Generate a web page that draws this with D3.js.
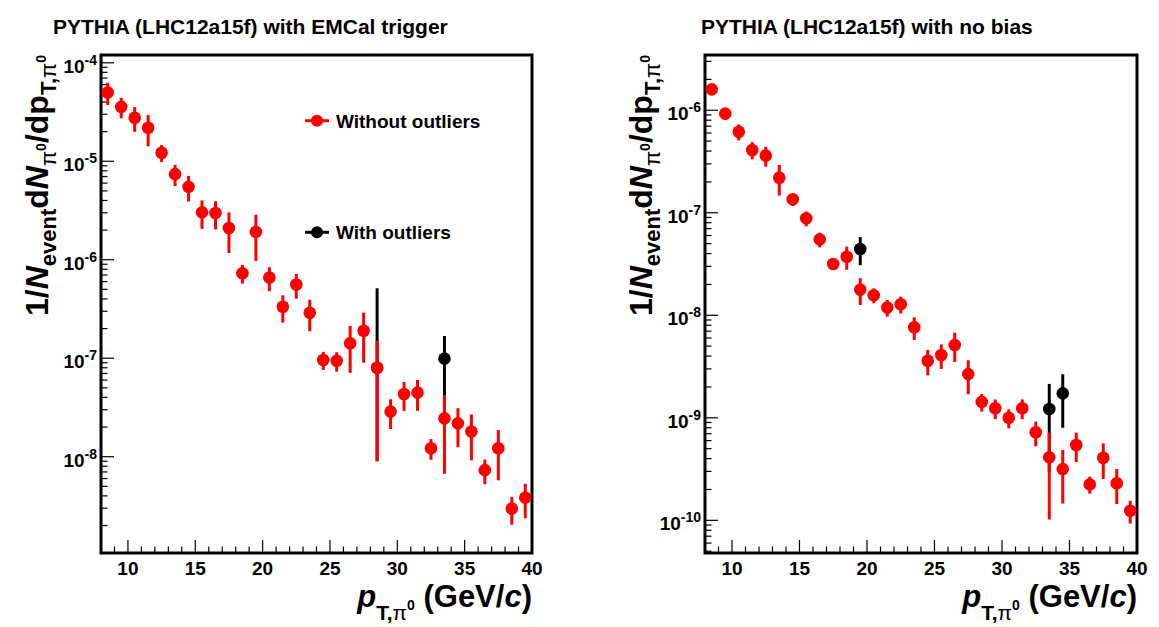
<!DOCTYPE html>
<html><head><meta charset="utf-8">
<script src="https://cdn.jsdelivr.net/npm/d3@7"></script>
<style>
html,body{margin:0;padding:0;background:#fff;}
svg text{font-family:"Liberation Sans",Arial,Helvetica,sans-serif;font-weight:bold;}
</style></head>
<body><svg id="c" width="1159" height="627"></svg>
<script>
// ---------- data ----------
const ptBins = [8.5,9.5,10.5,11.5,12.5,13.5,14.5,15.5,16.5,17.5,18.5,19.5,20.5,21.5,22.5,23.5,
                24.5,25.5,26.5,27.5,28.5,29.5,30.5,31.5,32.5,33.5,34.5,35.5,36.5,37.5,38.5,39.5];

// EMCal trigger, without outliers
const emcalValues = [5.0e-5,3.57e-5,2.77e-5,2.19e-5,1.22e-5,7.4e-6,5.5e-6,3.03e-6,2.98e-6,2.1e-6,7.3e-7,1.92e-6,
                     6.6e-7,3.33e-7,5.6e-7,2.9e-7,9.6e-8,9.4e-8,1.42e-7,1.9e-7,8.0e-8,2.87e-8,4.33e-8,4.47e-8,
                     1.22e-8,2.45e-8,2.18e-8,1.8e-8,7.3e-9,1.22e-8,2.97e-9,3.84e-9];
const emcalErrors = [1.27e-5,0.84e-5,0.78e-5,0.77e-5,0.24e-5,1.8e-6,1.6e-6,0.97e-6,0.95e-6,0.93e-6,1.57e-7,0.95e-6,
                     1.8e-7,1.03e-7,1.58e-7,1.02e-7,2.0e-8,2.1e-8,7.1e-8,1.0e-7,7.1e-8,9.6e-9,1.41e-8,1.55e-8,
                     2.9e-9,1.78e-8,9.3e-9,8.8e-9,2.05e-9,6.45e-9,9.3e-10,1.47e-9];
// EMCal trigger, with outliers (only bins that differ)
const emcalOutPt = [28.5,33.5];
const emcalOutValues = [8.0e-8,9.9e-8];
const emcalOutErrLow = [7.1e-8,6.9e-8];
const emcalOutErrHigh = [4.33e-7,6.9e-8];

// no bias, without outliers
const mbValues = [1.6e-6,9.27e-7,6.18e-7,4.1e-7,3.61e-7,2.2e-7,1.355e-7,8.83e-8,5.5e-8,3.16e-8,3.73e-8,1.78e-8,
                  1.57e-8,1.19e-8,1.28e-8,7.64e-9,3.6e-9,4.1e-9,5.13e-9,2.67e-9,1.43e-9,1.24e-9,1.0e-9,1.24e-9,
                  7.22e-10,4.12e-10,3.16e-10,5.43e-10,2.24e-10,4.08e-10,2.3e-10,1.24e-10];
const mbErrors = [1.5e-7,1.2e-7,1.1e-7,7.8e-8,8e-8,7.3e-8,1.9e-8,1.45e-8,9e-9,3e-9,9.5e-9,5.2e-9,
                  2.6e-9,2.2e-9,2.4e-9,1.9e-9,1.0e-9,1.1e-9,1.63e-9,0.97e-9,0.28e-9,0.27e-9,0.21e-9,0.27e-9,
                  1.95e-10,3.1e-10,1.7e-10,1.73e-10,0.42e-10,1.55e-10,0.86e-10,0.31e-10];
// no bias, with outliers
const mbOutPt = [19.5,33.5,34.5];
const mbOutValues = [4.43e-8,1.22e-9,1.73e-9];
const mbOutErrLow = [1.35e-8,0.92e-9,0.93e-9];
const mbOutErrHigh = [1.35e-8,0.92e-9,0.93e-9];

const xTicks = [10,15,20,25,30,35,40];
const xDomain = [8,40];
const titles = ["PYTHIA (LHC12a15f) with EMCal trigger","PYTHIA (LHC12a15f) with no bias"];
const legendLabels = ["Without outliers","With outliers"];

// ---------- drawing ----------
const svg = d3.select("#c");
const RED = "#ff0000";

function drawPanel(o){
  const g = svg.append("g");
  const x = d3.scaleLinear().domain(xDomain).range([o.left, o.right]);
  const y = d3.scaleLog().domain(o.yDomain).range([o.bottom, o.top]);
  const clipId = "clip"+o.id;
  svg.append("clipPath").attr("id",clipId).append("rect")
    .attr("x",o.left).attr("y",o.top).attr("width",o.right-o.left).attr("height",o.bottom-o.top);

  // title
  g.append("text").attr("x",o.titleX).attr("y",34).attr("font-size",21).text(o.title);

  // x ticks
  const minorX = d3.range(xDomain[0]+1, xDomain[1], 1);
  g.selectAll(".mx").data(minorX).join("line")
    .attr("x1",d=>x(d)).attr("x2",d=>x(d)).attr("y1",o.bottom).attr("y2",d=>o.bottom-(d%5===0?13:6.5))
    .attr("stroke","#000").attr("stroke-width",1.2);
  g.selectAll(".xl").data(xTicks).join("text")
    .attr("x",d=>x(d)).attr("y",575).attr("text-anchor","middle")
    .attr("font-size",19).text(d=>d);

  // y ticks (log)
  const lo = Math.floor(Math.log10(o.yDomain[0])), hi = Math.ceil(Math.log10(o.yDomain[1]));
  const yt = [];
  for(let e=lo;e<=hi;e++) for(let m=1;m<=9;m++){ const v=m*Math.pow(10,e); if(v>=o.yDomain[0]&&v<=o.yDomain[1]) yt.push({v,m,e}); }
  g.selectAll(".my").data(yt).join("line")
    .attr("x1",o.left).attr("x2",d=>o.left+(d.m===1?13:6.5)).attr("y1",d=>y(d.v)).attr("y2",d=>y(d.v))
    .attr("stroke","#000").attr("stroke-width",1.2);
  const maj = yt.filter(d=>d.m===1);
  const lab = g.selectAll(".yl").data(maj).join("text")
    .attr("x",o.left-4).attr("y",d=>y(d.v)+10).attr("text-anchor","end").attr("font-size",19);
  lab.append("tspan").text("10");
  lab.append("tspan").attr("font-size",14).attr("dy",-8).text(d=>d.e);

  // frame
  g.append("rect").attr("x",o.left).attr("y",o.top).attr("width",o.right-o.left).attr("height",o.bottom-o.top)
    .attr("fill","none").attr("stroke","#000").attr("stroke-width",3);

  // data: outliers (black) first, then the main series on top
  const plot = g.append("g").attr("clip-path",`url(#${clipId})`);
  const out = o.outPt.map((p,i)=>({p,v:o.outV[i],lo:o.outLo[i],hi:o.outHi[i]}));
  const main = ptBins.map((p,i)=>({p,v:o.vals[i],lo:o.errs[i],hi:o.errs[i]}));
  function drawSeries(data,color){
    const yLo = d=> (d.v-d.lo)>0 ? y(d.v-d.lo) : o.bottom+5;
    plot.append("g").selectAll("line").data(data).join("line")
      .attr("x1",d=>x(d.p)).attr("x2",d=>x(d.p)).attr("y1",d=>y(d.v+d.hi)).attr("y2",yLo)
      .attr("stroke",color).attr("stroke-width",3);
    plot.append("g").selectAll("circle").data(data).join("circle")
      .attr("cx",d=>x(d.p)).attr("cy",d=>y(d.v)).attr("r",6.3).attr("fill",color);
  }
  drawSeries(out,"#000");
  drawSeries(main,RED);

  // y title
  const yt2 = g.append("text").attr("transform",`translate(${o.left-53},${o.top}) rotate(-90)`)
    .attr("text-anchor","end").attr("font-size",32);
  yt2.append("tspan").text("1/");
  yt2.append("tspan").attr("font-style","italic").text("N");
  yt2.append("tspan").attr("font-size",22).attr("dy",8).text("event");
  yt2.append("tspan").attr("dy",-8).text("d");
  yt2.append("tspan").attr("font-style","italic").text("N");
  yt2.append("tspan").attr("font-size",22).attr("font-weight","normal").attr("dy",8).text("π");
  yt2.append("tspan").attr("font-size",14).attr("dy",-10).text("0");
  yt2.append("tspan").attr("dy",2).text("/dp");
  yt2.append("tspan").attr("font-size",22).attr("dy",8).text("T,");
  yt2.append("tspan").attr("font-size",22).attr("font-weight","normal").text("π");
  yt2.append("tspan").attr("font-size",14).attr("dy",-10).text("0");

  // x title
  const xt = g.append("text").attr("x",o.right).attr("y",607).attr("text-anchor","end").attr("font-size",31);
  xt.append("tspan").attr("font-style","italic").text("p");
  xt.append("tspan").attr("font-size",21).attr("dy",13).text("T,");
  xt.append("tspan").attr("font-size",21).attr("font-weight","normal").text("π");
  xt.append("tspan").attr("font-size",14).attr("dy",-10).text("0");
  xt.append("tspan").attr("dy",-3).text(" (GeV/");
  xt.append("tspan").attr("font-style","italic").text("c");
  xt.append("tspan").text(")");

  // legend
  if(o.legend){
    const items = [{t:legendLabels[0],c:RED,y:120.7},{t:legendLabels[1],c:"#000",y:232.3}];
    items.forEach(it=>{
      g.append("line").attr("x1",305).attr("x2",329).attr("y1",it.y).attr("y2",it.y)
        .attr("stroke",it.c).attr("stroke-width",3);
      g.append("circle").attr("cx",317).attr("cy",it.y).attr("r",6).attr("fill",it.c);
      g.append("text").attr("x",336).attr("y",it.y+7).attr("font-size",19).text(it.t);
    });
  }
}

drawPanel({id:"L",left:101,right:532,top:55,bottom:553,yDomain:[1.052e-9,1.2e-4],
  title:titles[0],titleX:53,vals:emcalValues,errs:emcalErrors,
  outPt:emcalOutPt,outV:emcalOutValues,outLo:emcalOutErrLow,outHi:emcalOutErrHigh,legend:true});
drawPanel({id:"R",left:705,right:1137,top:55,bottom:553,yDomain:[4.8e-11,3.46e-6],
  title:titles[1],titleX:701,vals:mbValues,errs:mbErrors,
  outPt:mbOutPt,outV:mbOutValues,outLo:mbOutErrLow,outHi:mbOutErrHigh,legend:false});
</script></body></html>
